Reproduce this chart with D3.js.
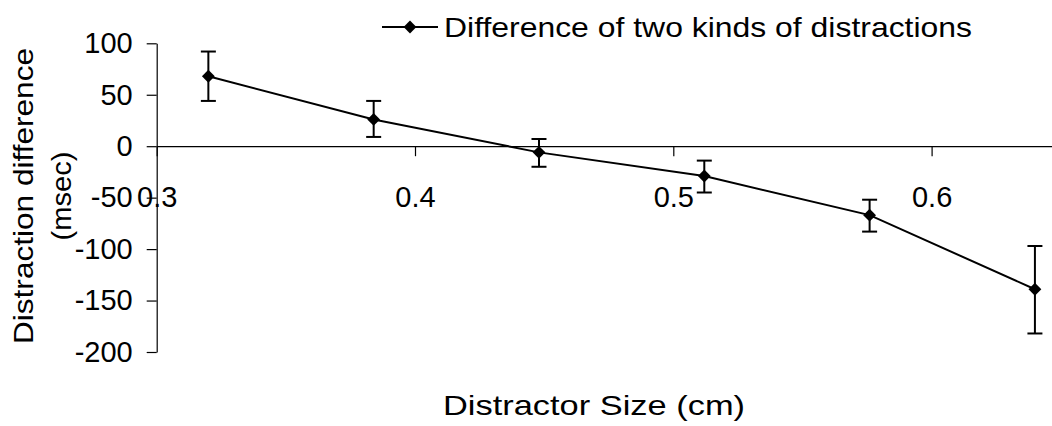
<!DOCTYPE html>
<html>
<head>
    <meta charset="utf-8">
    <title>Distraction difference</title>
    <script src="https://cdn.jsdelivr.net/npm/d3@7"></script>
    <style>
        body {
            margin: 0;
            background: #fff;
        }

        svg {
            display: block;
            font-family: "Liberation Sans", Arial, sans-serif;
        }

        .axis path,
        .axis line {
            stroke: #000;
            stroke-width: 1.2;
        }

        .axis text {
            font-size: 29px;
            fill: #000;
        }
    </style>
</head>
<body>
<svg width="1052" height="426"></svg>
<script>

var sizes = [0.32, 0.384, 0.448, 0.512, 0.576, 0.64],
    diffs = [68, 26, -6, -29, -67, -139],
    errTop = [92, 44, 7, -14, -52, -97],
    errBottom = [44, 9, -20, -45, -83, -182],
    xTicks = [0.3, 0.4, 0.5, 0.6],
    yTicks = [100, 50, 0, -50, -100, -150, -200],
    seriesName = 'Difference of two kinds of distractions';

var svg = d3.select('svg');

var x = d3.scaleLinear()
        .domain([0.3, 0.65])
        .range([156.7, 156.7 + 0.35 * 2583]);

var y = d3.scaleLinear()
        .domain([-200, 100])
        .range([352, 43.3]);

var points = sizes.map(function (s, i) {
    return {x: s, y: diffs[i], hi: errTop[i], lo: errBottom[i]};
});

// y axis (plain hyphen for negatives, like the original)
svg.append('g')
        .attr('class', 'axis')
        .attr('transform', 'translate(' + x(0.3) + ',0)')
        .call(d3.axisLeft(y)
                .tickValues(yTicks)
                .tickFormat(function (d) { return String(d); })
                .tickSize(10)
                .tickSizeOuter(0)
                .tickPadding(14));

// x axis at zero
svg.append('g')
        .attr('class', 'axis')
        .attr('transform', 'translate(0,' + y(0) + ')')
        .call(d3.axisBottom(x)
                .tickValues(xTicks)
                .tickFormat(d3.format('.1f'))
                .tickSize(10)
                .tickSizeOuter(0)
                .tickPadding(30));

svg.selectAll('.axis text').attr('fill', '#000');

// error bars
var bars = svg.append('g')
        .attr('stroke', '#000')
        .attr('stroke-width', 2);

bars.selectAll('line.stem')
        .data(points)
        .enter()
        .append('line')
        .attr('x1', function (d) { return x(d.x); })
        .attr('x2', function (d) { return x(d.x); })
        .attr('y1', function (d) { return y(d.hi); })
        .attr('y2', function (d) { return y(d.lo); });

['hi', 'lo'].forEach(function (k) {
    bars.selectAll('line.cap-' + k)
            .data(points)
            .enter()
            .append('line')
            .attr('x1', function (d) { return x(d.x) - 7.5; })
            .attr('x2', function (d) { return x(d.x) + 7.5; })
            .attr('y1', function (d) { return y(d[k]); })
            .attr('y2', function (d) { return y(d[k]); });
});

// series line
var line = d3.line()
        .x(function (d) { return x(d.x); })
        .y(function (d) { return y(d.y); });

svg.append('path')
        .datum(points)
        .attr('d', line)
        .attr('fill', 'none')
        .attr('stroke', '#000')
        .attr('stroke-width', 2);

var diamond = d3.symbol().type(d3.symbolDiamond2).size(105);

svg.selectAll('path.marker')
        .data(points)
        .enter()
        .append('path')
        .attr('class', 'marker')
        .attr('d', diamond)
        .attr('transform', function (d) {
            return 'translate(' + x(d.x) + ',' + y(d.y) + ')';
        })
        .attr('fill', '#000');

// legend
var legend = svg.append('g').attr('transform', 'translate(382,27)');
legend.append('line')
        .attr('x1', 0).attr('x2', 56)
        .attr('stroke', '#000').attr('stroke-width', 2);
legend.append('path')
        .attr('d', diamond)
        .attr('transform', 'translate(28,0)');
legend.append('text')
        .attr('x', 62)
        .attr('y', 10)
        .attr('font-size', 28)
        .attr('textLength', 528)
        .attr('lengthAdjust', 'spacingAndGlyphs')
        .text(seriesName);

// axis titles
svg.append('text')
        .attr('x', 594)
        .attr('y', 415)
        .attr('text-anchor', 'middle')
        .attr('font-size', 28)
        .attr('textLength', 302)
        .attr('lengthAdjust', 'spacingAndGlyphs')
        .text('Distractor Size (cm)');

var yTitle = svg.append('text')
        .attr('transform', 'translate(0,196) rotate(-90)')
        .attr('text-anchor', 'middle')
        .attr('font-size', 28);
yTitle.append('tspan')
        .attr('x', 0).attr('y', 33)
        .attr('textLength', 296)
        .attr('lengthAdjust', 'spacingAndGlyphs')
        .text('Distraction difference');
yTitle.append('tspan')
        .attr('x', 0).attr('y', 71)
        .attr('textLength', 89)
        .attr('lengthAdjust', 'spacingAndGlyphs')
        .text('(msec)');

</script>
</body>
</html>
